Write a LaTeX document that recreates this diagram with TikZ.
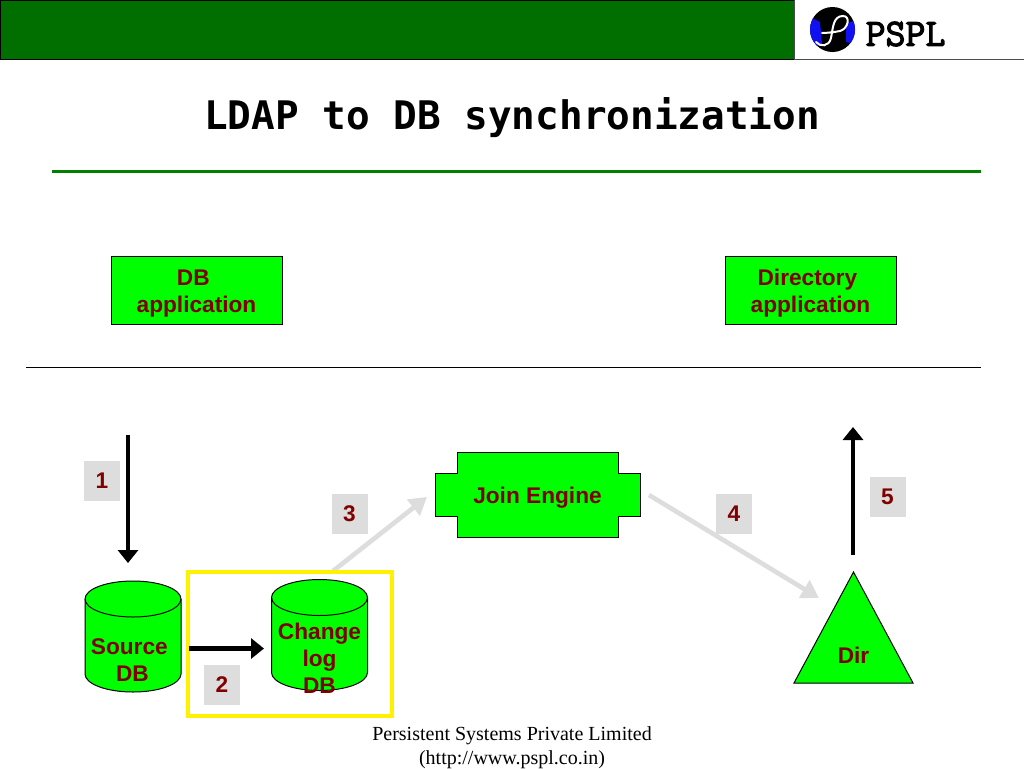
\documentclass[tikz,border=0pt]{standalone}
\usepackage{fontspec}
\setmainfont{Liberation Sans}
\newfontfamily\titlefont{DejaVu Sans Mono}
\newfontfamily\footfont{Liberation Serif}
\newfontfamily\logofont[FakeBold=3]{Latin Modern Mono}
\usetikzlibrary{arrows.meta,positioning}
\definecolor{SlideGreen}{HTML}{00FF00}
\definecolor{HeadGreen}{HTML}{006F00}
\definecolor{RuleGreen}{HTML}{008000}
\definecolor{TextRed}{HTML}{800000}
\definecolor{BoxGrey}{HTML}{DDDDDD}
\definecolor{LogoBlue}{HTML}{1010F0}
\begin{document}
\begin{tikzpicture}[x=0.75pt,y=-0.75pt,
  lbl/.style={font=\bfseries\fontsize{17}{20.25}\selectfont,text=TextRed,align=center,inner sep=0pt},
  appbox/.style={lbl,draw=black,line width=0.75pt,fill=SlideGreen,minimum width=128.25pt,minimum height=51pt},
  numbox/.style={lbl,fill=BoxGrey,minimum width=27pt,minimum height=30pt},
  shp/.style={draw=black,line width=0.75pt,fill=SlideGreen},
  dbdrum/.pic={
    \draw[shp] (-48,-37.5) -- (-48,37.5) arc[start angle=180,end angle=0,x radius=48,y radius=18] -- (48,-37.5) arc[start angle=0,end angle=-180,x radius=48,y radius=18] -- cycle;
    \draw[black,line width=0.75pt] (-48,-37.5) arc[start angle=180,end angle=0,x radius=48,y radius=18];
  },
  blk/.style={-{Triangle[length=9.75pt,width=15pt]},black,line width=3.5pt},
  gry/.style={-{Triangle[length=13pt,width=15pt]},BoxGrey,line width=3.5pt}]
  \useasboundingbox (0,0) rectangle (1024,768);
  % header band and logo
  \fill[HeadGreen,draw=black,line width=0.75pt] (0,0) rectangle (794,59);
  \draw[black!70,line width=0.75pt] (794,0) -- (794,59) -- (1024,59);
  \fill[black] (832.5,29.5) circle (22.5);
  \begin{scope}
    \clip (832.5,29.5) circle (22.5);
    \fill[LogoBlue] (804,14) -- (820,22) -- (822,44) -- (804,50) -- cycle;
    \fill[LogoBlue] (860,18) -- (846,24) -- (846,42) -- (860,46) -- cycle;
  \end{scope}
  \draw[white,line width=1.5pt,line cap=round] (816,42) .. controls (820,47) and (829,47) .. (831,38) .. controls (833,28) and (833,16) .. (843,16) .. controls (851,16) and (848,29) .. (840,31) .. controls (835,32) and (827,33) .. (822,33);
  \node[font=\logofont\fontsize{29}{29}\selectfont,inner sep=0pt] (logo) at (905.5,34) {PSPL};
  % title
  \node[font=\titlefont\bfseries\fontsize{29.5}{30}\selectfont,inner sep=0pt] (title) at (512,118) {LDAP to DB synchronization};
  \draw[RuleGreen,line width=2.25pt] (52,171) -- (981,171);
  % applications
  \node[appbox] (dbapp) at (196.5,290) {\rule{0pt}{16.5pt}\mbox{DB\ }\\application};
  \node[appbox] (dirapp) at (810.5,290) {\rule{0pt}{16.5pt}\mbox{Directory\ }\\application};
  \draw[black,line width=0.75pt] (26,367) -- (981,367);
  % bottom row
  \coordinate (a3s) at (333,571);
  \coordinate (a3e) at (427,497);
  \coordinate (a4s) at (649,495);
  \coordinate (a4e) at (819,598);
  \draw[gry] (a3s) -- (a3e);
  \draw[gry] (a4s) -- (a4e);
  \node[draw=yellow,line width=3pt,minimum width=153pt,minimum height=108pt,inner sep=0pt] (chgbox) at (290,644) {};
  \pic (src) at (133,636.5) {dbdrum};
  \pic (chg) at (319.5,635) {dbdrum};
  \node[lbl] (srctxt) at (132.5,660) {\mbox{Source\ }\\DB};
  \node[lbl] (chgtxt) at (319.5,658) {Change\\log\\DB};
  \draw[shp] (457,452) -- (618,452) -- (618,473) -- (640,473) -- (640,516) -- (618,516) -- (618,537) -- (457,537) -- (457,516) -- (435,516) -- (435,473) -- (457,473) -- cycle;
  \node[lbl] (join) at (537.5,498) {Join Engine};
  \draw[shp] (853.5,572) -- (913,683) -- (794,683) -- cycle;
  \node[lbl] (dir) at (853.5,655) {Dir};
  % black arrows
  \coordinate (a1s) at (128,435);
  \coordinate (a1e) at (128,563);
  \coordinate (a2s) at (189,648.5);
  \coordinate (a2e) at (264,648.5);
  \coordinate (a5s) at (853,555);
  \coordinate (a5e) at (853,427);
  \draw[blk] (a1s) -- (a1e);
  \draw[blk] (a2s) -- (a2e);
  \draw[blk] (a5s) -- (a5e);
  % step numbers
  \node[numbox] (n1) at (102,481) {1};
  \node[numbox] (n2) at (222,685) {2};
  \node[numbox] (n3) at (349.5,514) {3};
  \node[numbox] (n4) at (734,514) {4};
  \node[numbox] (n5) at (887.5,497) {5};
  % footer
  \node[font=\footfont\fontsize{15}{18}\selectfont,align=center,inner sep=0pt] (foot) at (512,748) {Persistent Systems Private Limited\\(http://www.pspl.co.in)};
\end{tikzpicture}
\end{document}
